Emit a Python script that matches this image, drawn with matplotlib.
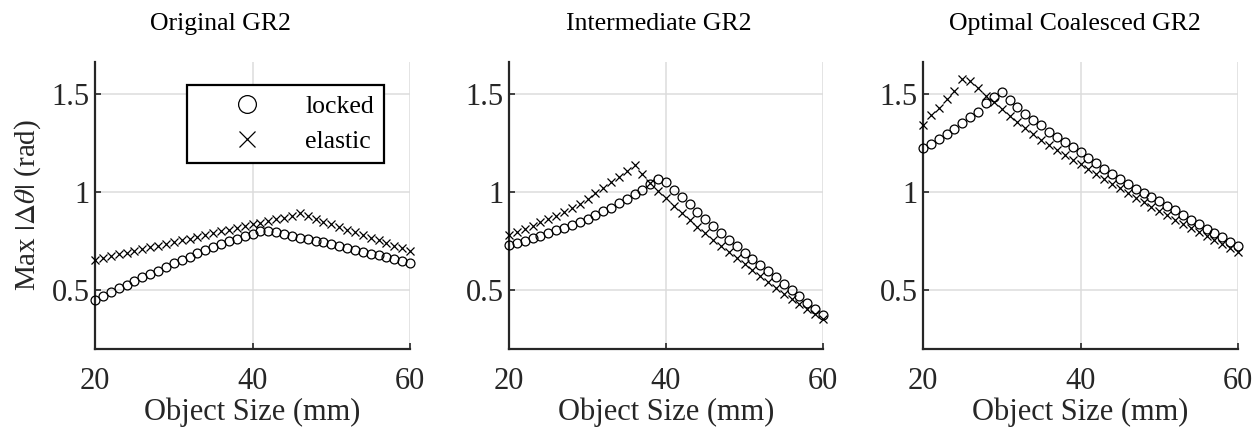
import matplotlib
matplotlib.use("Agg")
import matplotlib.pyplot as plt

plt.rcParams['font.family'] = ['Liberation Serif', 'DejaVu Serif']
plt.rcParams['mathtext.fontset'] = 'stix'

object_size = [20, 21, 22, 23, 24, 25, 26, 27, 28, 29, 30, 31, 32, 33, 34, 35, 36, 37, 38, 39, 40,
               41, 42, 43, 44, 45, 46, 47, 48, 49, 50, 51, 52, 53, 54, 55, 56, 57, 58, 59, 60]

titles = ["Original GR2", "Intermediate GR2", "Optimal Coalesced GR2"]
series_names = ["locked", "elastic"]

orig_locked = [0.45, 0.47, 0.49, 0.51, 0.525, 0.545, 0.565, 0.585, 0.60, 0.62, 0.64,
               0.655, 0.67, 0.69, 0.705, 0.72, 0.735, 0.75, 0.762, 0.775, 0.788,
               0.80, 0.803, 0.796, 0.787, 0.777, 0.768, 0.760, 0.752, 0.744, 0.735,
               0.726, 0.717, 0.707, 0.697, 0.687, 0.678, 0.668, 0.658, 0.648, 0.638]
orig_elastic = [0.655, 0.665, 0.674, 0.683, 0.692, 0.701, 0.71, 0.719, 0.728, 0.737, 0.746,
                0.755, 0.764, 0.773, 0.782, 0.791, 0.80, 0.809, 0.818, 0.827, 0.836,
                0.845, 0.853, 0.862, 0.871, 0.880, 0.892, 0.877, 0.863, 0.85, 0.836,
                0.823, 0.809, 0.796, 0.782, 0.768, 0.755, 0.741, 0.728, 0.714, 0.700]

inter_locked = [0.73, 0.74, 0.752, 0.765, 0.778, 0.792, 0.806, 0.82, 0.835, 0.85, 0.866,
                0.883, 0.902, 0.922, 0.944, 0.967, 0.99, 1.014, 1.04, 1.068, 1.054,
                1.013, 0.977, 0.94, 0.90, 0.862, 0.826, 0.792, 0.758, 0.724, 0.691,
                0.659, 0.627, 0.596, 0.565, 0.534, 0.502, 0.47, 0.437, 0.405, 0.372]
inter_elastic = [0.78, 0.796, 0.812, 0.829, 0.846, 0.863, 0.88, 0.898, 0.918, 0.94, 0.965,
                 0.995, 1.022, 1.05, 1.08, 1.108, 1.138, 1.093, 1.045, 1.007, 0.969,
                 0.932, 0.894, 0.858, 0.823, 0.79, 0.758, 0.727, 0.696, 0.666, 0.636,
                 0.605, 0.574, 0.543, 0.511, 0.48, 0.454, 0.429, 0.404, 0.38, 0.355]

opt_locked = [1.224, 1.245, 1.27, 1.296, 1.325, 1.355, 1.382, 1.41, 1.458, 1.488, 1.512,
              1.47, 1.436, 1.402, 1.371, 1.342, 1.31, 1.283, 1.257, 1.231, 1.204,
              1.175, 1.148, 1.12, 1.092, 1.066, 1.042, 1.019, 0.997, 0.975, 0.953,
              0.93, 0.907, 0.884, 0.86, 0.837, 0.815, 0.793, 0.77, 0.748, 0.725]
opt_elastic = [1.343, 1.394, 1.432, 1.476, 1.519, 1.578, 1.57, 1.53, 1.491, 1.459, 1.425,
               1.39, 1.36, 1.326, 1.297, 1.266, 1.24, 1.215, 1.19, 1.167, 1.143,
               1.119, 1.093, 1.068, 1.044, 1.02, 0.996, 0.973, 0.95, 0.927, 0.905,
               0.882, 0.86, 0.838, 0.816, 0.795, 0.775, 0.755, 0.735, 0.715, 0.695]

locked_data = [orig_locked, inter_locked, opt_locked]
elastic_data = [orig_elastic, inter_elastic, opt_elastic]

xticks = [20, 40, 60]
yticks = [0.5, 1.0, 1.5]
ytick_labels = ["0.5", "1", "1.5"]

W, H = 1260, 430
fig = plt.figure(figsize=(W / 100, H / 100), dpi=100)

axes_px = [(95, 410), (509, 823), (923, 1238)]
top_px, bot_px = 62, 349
title_cx = [220, 659, 1075]

spine_c = '#262626'
for i in range(3):
    l, r = axes_px[i]
    ax = fig.add_axes([l / W, (H - bot_px) / H, (r - l) / W, (bot_px - top_px) / H])
    ax.plot(object_size, locked_data[i], linestyle='none', marker='o', markersize=6.4,
            markerfacecolor='none', markeredgecolor='black', markeredgewidth=0.9,
            label=series_names[0], clip_on=False, zorder=3)
    ax.plot(object_size, elastic_data[i], linestyle='none', marker='x', markersize=5.6,
            markeredgecolor='black', markeredgewidth=0.9,
            label=series_names[1], clip_on=False, zorder=3)
    ax.set_xlim(20, 60)
    ax.set_ylim(0.2, 1.665)
    ax.set_xticks(xticks)
    ax.set_xticklabels([str(t) for t in xticks])
    ax.set_yticks(yticks)
    ax.set_yticklabels(ytick_labels)
    for s in ['top', 'right']:
        ax.spines[s].set_visible(False)
    for s in ['left', 'bottom']:
        ax.spines[s].set_linewidth(1.6)
        ax.spines[s].set_color(spine_c)
    ax.tick_params(direction='in', length=4, width=1.2, colors=spine_c,
                   labelcolor='#262626', labelsize=22)
    ax.tick_params(axis='x', pad=13)
    ax.tick_params(axis='y', pad=4)
    ax.grid(True, color='#dcdcdc', linewidth=1.1)
    ax.set_axisbelow(True)
    ax.set_xlabel("Object Size (mm)", fontsize=22, color='#262626', labelpad=1)
    fig.text(title_cx[i] / W, 1 - 30 / H, titles[i], ha='center', va='baseline',
             fontsize=18.5, color='black')
    if i == 0:
        ax.set_ylabel(r'Max $|\Delta\theta|$ (rad)', fontsize=21, color='#262626', labelpad=6)
        leg = ax.legend(loc='upper left', bbox_to_anchor=(0.292, 0.92), fontsize=18.5,
                        markerscale=2.0, handlelength=3.9, handletextpad=0.3,
                        borderpad=0.4, labelspacing=0.45, fancybox=False,
                        framealpha=1, borderaxespad=0)
        leg.get_frame().set_edgecolor('black')
        leg.get_frame().set_linewidth(1.6)

fig.savefig("out.png", dpi=100)
